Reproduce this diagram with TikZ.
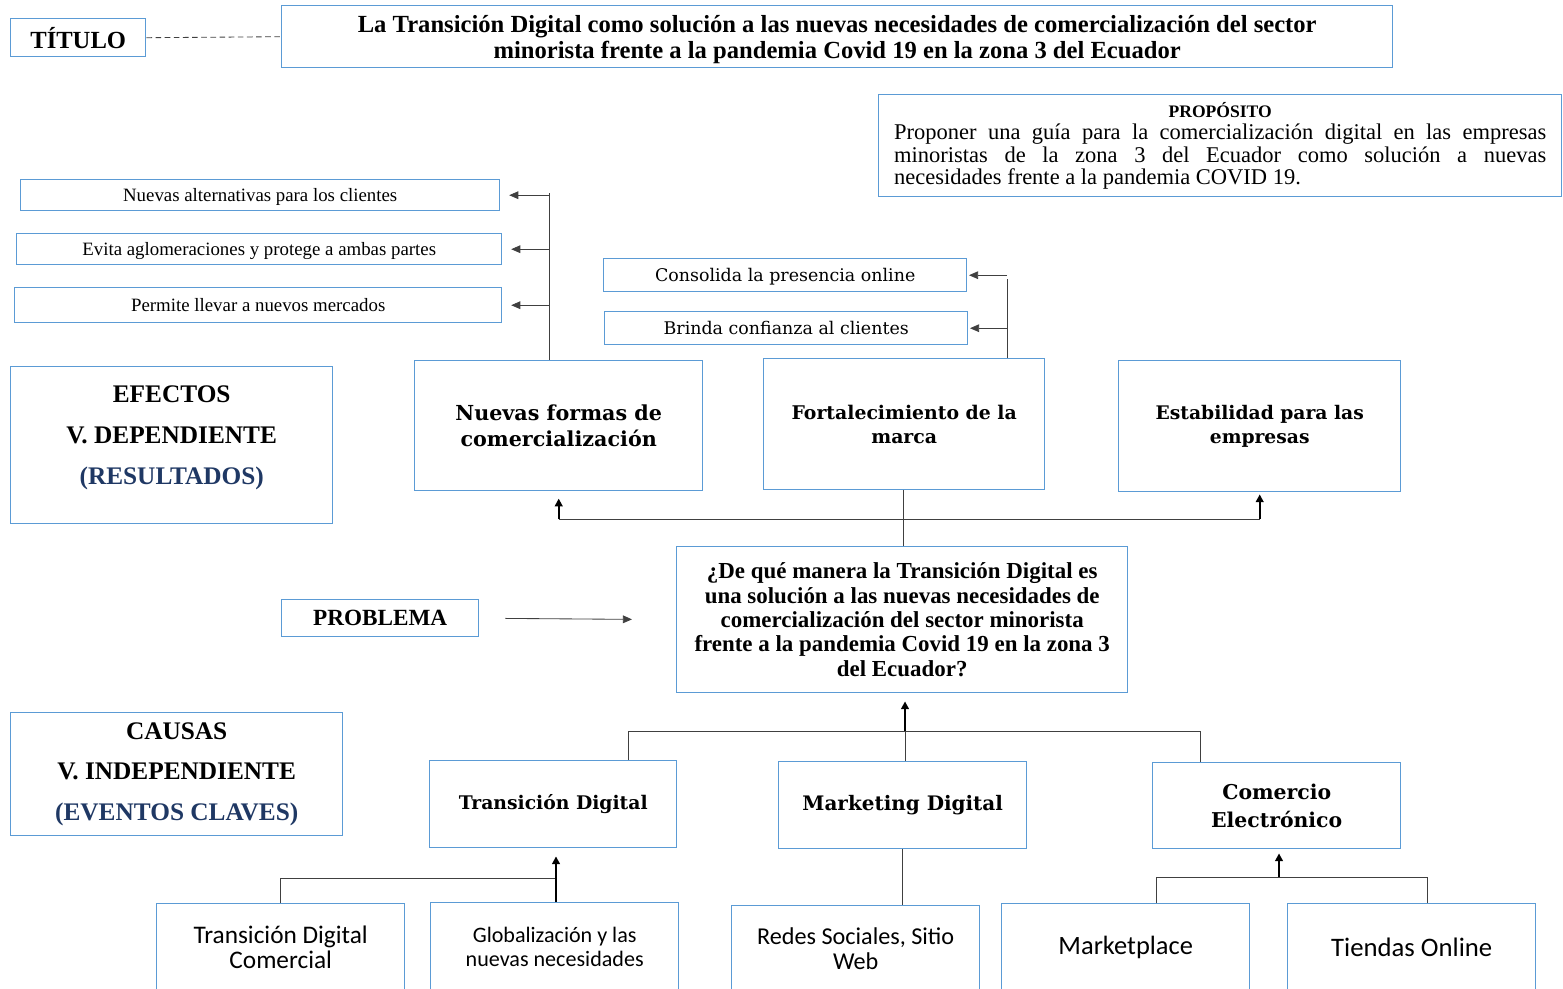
\documentclass[tikz,border=0pt]{standalone}
\usepackage{fontspec}
\setmainfont{Liberation Serif}
\newfontfamily\cambria{DejaVu Serif}
\newfontfamily\calibri{Carlito}
\usetikzlibrary{arrows.meta}

\definecolor{bordeazul}{RGB}{91,155,213}
\definecolor{azuloscuro}{RGB}{31,56,100}

\tikzset{
  caja/.style={draw=bordeazul, line width=1pt, anchor=north west, align=center, inner sep=2pt},
  medida/.style 2 args={minimum width=#1*0.025cm, minimum height=#2*0.025cm},
  linea/.style={draw=black!75, line width=0.6pt},
  flecha/.style={linea, -{Triangle[length=6.5pt,width=5.5pt]}},
  flechaup/.style={draw=black, line width=1.3pt, -{Triangle[length=5.5pt,width=5.5pt]}},
}

\begin{document}
\begin{tikzpicture}[x=0.025cm, y=-0.025cm]
        \useasboundingbox (0,0) rectangle (1563,988);
        \clip (0,0) rectangle (1563,988);

        % Titulo y proposito
        \node[caja, medida={135}{38}, font=\fontsize{17.5}{20}\selectfont\bfseries] (titulo) at (10,18) {TÍTULO};
        \node[caja, medida={1111}{62}, text depth=0pt, font=\fontsize{17.5}{18.5}\selectfont\bfseries] (tema) at (281,5)
            {La Transición Digital como solución a las nuevas necesidades de comercialización del sector\\
             minorista frente a la pandemia Covid 19 en la zona 3 del Ecuador};
        \draw[linea, dashed, dash pattern=on 4pt off 2.5pt] (titulo.east) -- (tema.west);

        \node[caja, medida={683}{102}, align=justify, text width=652*0.025cm, inner xsep=15*0.025cm,
              font=\fontsize{16}{16}\selectfont] (proposito) at (878,94)
            {\hyphenchar\font=-1
             {\centering\fontsize{12.5}{14}\selectfont\bfseries PROPÓSITO\par}
             Proponer una guía para la comercialización digital en las empresas \mbox{minoristas} de la zona 3 del Ecuador como solución a nuevas\linebreak necesidades frente a la pandemia COVID 19.};

        % Efectos - variable dependiente
        \node[caja, medida={322}{157}, text depth=14pt, font=\fontsize{18}{29}\selectfont\bfseries] (efectos) at (10,366)
            {EFECTOS\\V. DEPENDIENTE\\\textcolor{azuloscuro}{(RESULTADOS)}};

        \node[caja, medida={479}{31}, text depth=0pt, font=\fontsize{13.4}{14}\selectfont] (alt1) at (20,179) {Nuevas alternativas para los clientes};
        \node[caja, medida={485}{31}, text depth=0pt, font=\fontsize{13.4}{14}\selectfont] (alt2) at (16,233) {Evita aglomeraciones y protege a ambas partes};
        \node[caja, medida={487}{35}, text depth=0pt, font=\fontsize{13.4}{14}\selectfont] (alt3) at (14,287) {Permite llevar a nuevos mercados};

        \node[caja, medida={363}{33}, text depth=0pt, font=\cambria\fontsize{12.4}{14}\selectfont] (consol) at (603,258) {Consolida la presencia online};
        \node[caja, medida={363}{33}, text depth=0pt, font=\cambria\fontsize{12.4}{14}\selectfont] (confia) at (604,311) {Brinda confianza al clientes};

        \node[caja, medida={288}{130}, font=\cambria\fontsize{14.7}{18.5}\selectfont\bfseries] (nuevas) at (414,360) {Nuevas formas de\\comercialización};
        \node[caja, medida={281}{131}, font=\cambria\fontsize{13.4}{17}\selectfont\bfseries] (fort) at (763,358) {Fortalecimiento de la\\marca};
        \node[caja, medida={282}{131}, font=\cambria\fontsize{13.3}{17}\selectfont\bfseries] (estab) at (1118,360) {Estabilidad para las\\empresas};

        % Problema
        \node[caja, medida={197}{37}, font=\fontsize{16.5}{18}\selectfont\bfseries] (problema) at (281,599) {PROBLEMA};
        \node[caja, medida={451}{146}, font=\fontsize{16.3}{17.4}\selectfont\bfseries] (preg) at (676,546)
            {¿De qué manera la Transición Digital es\\una solución a las nuevas necesidades de\\comercialización del sector minorista\\frente a la pandemia Covid 19 en la zona 3\\del Ecuador?};

        % Causas - variable independiente
        \node[caja, medida={332}{123}, font=\fontsize{18}{29}\selectfont\bfseries] (causas) at (10,712)
            {CAUSAS\\V. INDEPENDIENTE\\\textcolor{azuloscuro}{(EVENTOS CLAVES)}};

        \node[caja, medida={247}{87}, font=\cambria\fontsize{13.35}{17}\selectfont\bfseries] (trans) at (429,760) {Transición Digital};
        \node[caja, medida={248}{87}, font=\cambria\fontsize{14.2}{17}\selectfont\bfseries] (mkt) at (778,761) {Marketing Digital};
        \node[caja, medida={248}{86}, font=\cambria\fontsize{14.5}{20}\selectfont\bfseries] (comercio) at (1152,762) {Comercio\\Electrónico};

        \node[caja, medida={248}{88}, font=\calibri\fontsize{18}{17.8}\selectfont] (tdc) at (156,903) {Transición Digital\\Comercial};
        \node[caja, medida={248}{89}, font=\calibri\fontsize{15.7}{17}\selectfont] (glob) at (430,902) {Globalización y las\\nuevas necesidades};
        \node[caja, medida={248}{86}, font=\calibri\fontsize{17.2}{17.8}\selectfont] (redes) at (731,905) {Redes Sociales, Sitio\\Web};
        \node[caja, medida={248}{88}, font=\calibri\fontsize{18.8}{18}\selectfont] (market) at (1001,903) {Marketplace};
        \node[caja, medida={248}{88}, font=\calibri\fontsize{19}{18}\selectfont] (tiendas) at (1287,903) {Tiendas Online};

        % Puntos de las ramas
        \coordinate (troncoA) at (549,193);
        \coordinate (troncoB) at (1007,279);
        \coordinate (ramaE) at (903,519);
        \coordinate (ramaC) at (905,731);
        \coordinate (c1) at (628,731);
        \coordinate (c3) at (1200,731);
        \coordinate (ramaT) at (556,878);
        \coordinate (ramaM) at (1279,877);
        \coordinate (m1) at (1156,877);
        \coordinate (m2) at (1427,877);

        % Efectos secundarios
        \draw[linea] (troncoA) -- (troncoA |- nuevas.north);
        \foreach \k in {alt1,alt2,alt3}
            \draw[flecha, shorten >=0.22cm] (\k.east -| troncoA) -- (\k.east);
        \draw[linea] (troncoB) -- (troncoB |- fort.north);
        \foreach \k in {consol,confia}
            \draw[flecha, shorten >=0.04cm] (\k.east -| troncoB) -- (\k.east);

        % Del problema a los efectos
        \draw[linea] (preg.north -| ramaE) -- (fort.south -| ramaE);
        \draw[linea] (nuevas.south |- ramaE) -- (estab.south |- ramaE);
        \draw[flechaup, shorten >=0.18cm] (nuevas.south |- ramaE) -- (nuevas.south);
        \draw[flechaup, shorten >=0.05cm] (estab.south |- ramaE) -- (estab.south);
        \draw[flecha, shorten <=0.65cm, shorten >=1.1cm] (problema.east) -- (preg.west);

        % De las causas al problema
        \draw[linea] (c1 |- trans.north) |- (ramaC) -| (c3 |- comercio.north);
        \draw[linea] (ramaC) -- (mkt.north -| ramaC);
        \draw[flechaup, shorten >=0.2cm] (ramaC) -- (preg.south -| ramaC);

        % Subcausas
        \draw[linea] (tdc.north) |- (ramaT);
        \draw[flechaup, shorten >=0.2cm] (glob.north -| ramaT) -- (trans.south -| ramaT);
        \draw[linea] (mkt.south) -- (mkt.south |- redes.north);
        \draw[linea] (m1 |- market.north) |- (m2) -- (m2 |- tiendas.north);
        \draw[flechaup, shorten >=0.1cm] (ramaM) -- (comercio.south -| ramaM);
\end{tikzpicture}
\end{document}
